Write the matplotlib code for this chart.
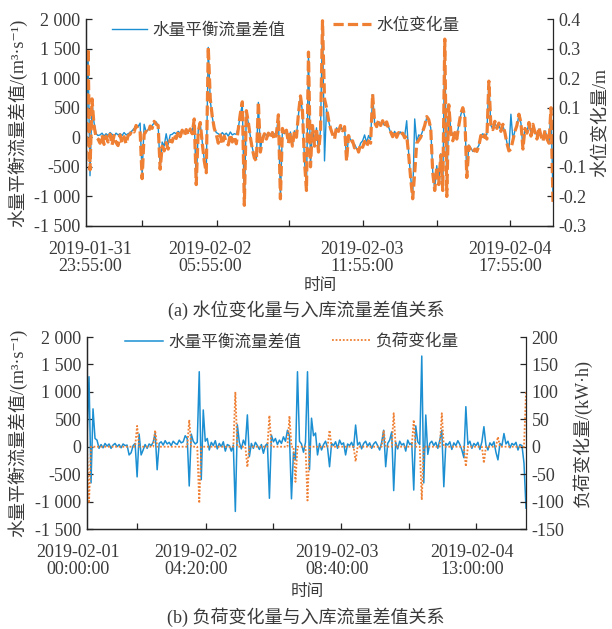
import matplotlib
matplotlib.use('Agg')
import matplotlib.pyplot as plt
import numpy as np
from matplotlib.transforms import offset_copy

# fonts: serif for numbers, CJK fallback for Chinese, DejaVu for superscript minus
plt.rcParams['font.family'] = ['Liberation Serif', 'Noto Sans CJK SC', 'DejaVu Sans']
plt.rcParams['axes.unicode_minus'] = False

# ---- (a) flow balance difference (m3/s) and water level change (mm) ----
flow_diff_a = [
    -300, 1450, -650, 600, 250, 60, 30, 40, 70, 20,
    60, 30, 80, 50, 20, 70, 40, 60, 30, 80,
    40, 60, 80, 110, 150, 160, 180, 240, -650, 220,
    90, 130, 170, 200, 240, 260, 200, -520, -80, -150,
    60, -120, 40, 50, 80, 60, 100, 70, 110, 90,
    120, 80, 130, 100, 300, -780, 120, 230, -80, -380,
    -600, 1520, 620, 340, 160, 80, 60, 30, 80, 40,
    70, 20, 90, 40, 60, 50, 160, 380, 560, -1150,
    420, 240, 20, -180, -330, -360, 590, -220, 10, 60,
    30, 80, 40, 90, 50, 70, 360, -1030, 140, 60,
    120, -80, 90, -120, 110, 30, 380, 690, 430, -380,
    -880, 1430, -480, 180, -120, 160, -230, 120, 1960, -400,
    480, 280, 140, 60, 20, 160, 100, 180, 120, 170,
    -380, 20, -40, -80, -120, -190, -210, -100, -60, 40,
    -90, 30, -40, 720, 240, 190, 260, 220, 250, 200,
    230, 170, 80, 30, 100, 20, 60, 90, 40, 20,
    280, -280, -680, -1020, 310, -80, 40, 20, 110, 190,
    330, 290, 160, -580, -880, -480, -780, -280, -880, 1650,
    -980, 540, 120, 40, 80, 30, 210, 380, 490, 340,
    -660, -130, -180, -240, -220, -190, -140, 30, 60, 20,
    50, 940, 200, 140, 240, 170, 210, 110, 190, 90,
    -90, -220, 390, -40, 110, 190, 380, 240, -190, 160,
    90, 240, 60, 190, 100, 20, 140, 60, -40, 110,
    20, -90, 480, -1000,
]

level_change_mm = [
    -80, 300, -110, 130, 40, 0, -6, -20, 8, -24,
    4, -16, 10, -26, 6, -18, -28, 8, -20, 2,
    -22, 6, 10, 24, 18, 40, 26, 20, -140, 10,
    20, 14, 38, 30, 54, 44, 40, -108, -30, -46,
    -18, -40, -10, -16, 10, -4, 18, 2, 24, 6,
    26, 8, 28, 12, 62, -160, 20, 50, -20, -80,
    -120, 306, 130, 70, 30, 10, -20, 8, -24, 4,
    -18, -26, 10, -16, 4, -22, 30, 80, 120, -230,
    90, 50, 0, -40, -70, -80, 120, -50, -10, 12,
    -6, 14, -4, 16, -8, 12, 76, -208, 30, 10,
    24, -20, 16, -30, 20, 0, 80, 140, 90, -80,
    -180, 288, -100, 40, -30, 30, -50, 20, 394, 130,
    100, 60, 30, 10, -6, 36, 20, 40, 22, 36,
    -80, 6, -16, -12, -36, -30, -50, -24, -34, -14,
    -32, -12, -20, 146, 50, 36, 58, 40, 56, 36,
    52, 30, 18, 2, 22, 0, 16, 6, 14, -2,
    6, -60, -140, -208, -120, -20, -10, 0, 20, 40,
    70, 60, 30, -120, -180, -100, -160, -60, -180, 332,
    -200, 110, 20, -12, 16, -6, 40, 80, 100, 70,
    -136, -30, -44, -52, -40, -48, -30, 6, -8, 8,
    -6, 190, 40, 26, 54, 30, 48, 20, 44, 16,
    -20, -46, -40, -10, 20, 40, 78, 50, -40, 30,
    14, 50, 4, 44, 16, -6, 34, 4, -14, 24,
    -6, -20, 100, -220,
]

# ---- (b) flow balance difference (m3/s) and load change (kW.h) ----
flow_diff_b = [
    120, 1276, -660, 690, 150, 120, -30, 40, -20, 60,
    10, 50, -30, 30, 60, 0, 40, -20, 50, 20,
    30, -150, -110, 20, 60, -550, 230, -150, -60, 40,
    -30, 50, 20, 80, 250, -420, 60, 90, 30, 110,
    50, 80, 20, 100, 60, 40, 120, 70, 90, 200,
    150, -716, 230, 100, 50, 80, 1367, -600, 670, 100,
    150, -60, 80, 20, 110, -40, 60, 0, 90, -80,
    40, 20, -80, 30, -1180, 400, 80, -40, 120, 30,
    580, -180, 60, -30, 80, 20, -50, 40, -120, 20,
    60, -940, 210, 90, 150, 40, 120, 60, 180, 100,
    300, 200, -950, -100, -240, 1367, 100, 50, -100, 80,
    1367, -420, 520, 200, 250, -150, 60, -60, 40, 100,
    -20, -365, 60, 20, 90, -30, 120, 40, 70, -150,
    50, 20, 80, -20, 395, 30, 80, -40, 60, 100,
    10, 70, -30, 50, 90, 20, -60, 80, 300, -365,
    60, 120, 270, -800, 80, -40, 100, 30, 60, -80,
    120, 40, 70, -790, 380, 90, 40, 1653, -660, 578,
    -140, 60, 100, 20, 80, -30, 120, 300, -730, 60,
    30, 90, -50, 70, 20, 110, 40, -60, -200, 730,
    40, 100, -30, 60, 20, 80, -50, 90, 365, 30,
    -60, 70, 20, 90, -100, -240, 60, 20, 240, 50,
    100, -20, 60, 30, 80, -60, 40, 20, -300, -1120,
]

load_change = [
    0, -103, 0, 0, 0, 0, 0, 0, 0, 0,
    0, 0, 0, 0, 0, 0, 0, 0, 0, 0,
    0, 0, 0, 0, 0, 38, 0, 0, 0, 0,
    0, 0, 0, 0, 30, 0, 0, 0, 0, 0,
    0, 0, 0, 0, 0, 0, 0, 0, 0, 0,
    0, 49, 0, 0, 0, 0, -103, 0, 0, 0,
    0, 0, 0, 0, 0, 0, 0, 0, 0, 0,
    0, 0, 0, 0, 100, 0, 0, 0, 0, 0,
    -37, 0, 0, 0, 0, 0, 0, 0, 0, 0,
    0, 57, 0, 0, 0, 0, 0, 0, 0, 0,
    0, 56, 0, 0, -64, 0, 0, 0, 0, 0,
    -98, 0, 0, 0, 0, 0, 0, 0, 0, 0,
    0, 30, 0, 0, 0, 0, 0, 0, 0, 0,
    0, 0, 0, 0, -27, 0, 0, 0, 0, 0,
    0, 0, 0, 0, 0, 0, 0, 0, 30, 0,
    0, 0, 0, 61, 0, 0, 0, 0, 0, 0,
    0, 0, 0, 49, 0, 0, 0, -97, 0, 0,
    0, 0, 0, 0, 0, 0, 0, 61, 0, 0,
    0, 0, 0, 0, 0, 0, 0, 0, 0, -36,
    0, 0, 0, 0, 0, 0, 0, 0, -30, 0,
    0, 0, 0, 0, 0, 18, 0, 0, 0, 0,
    0, 0, 0, 0, 0, 0, 0, 0, 0, 100,
]

dates_a = ['2019-01-31\n23:55:00', '2019-02-02\n05:55:00',
           '2019-02-03\n11:55:00', '2019-02-04\n17:55:00']
dates_b = ['2019-02-01\n00:00:00', '2019-02-02\n04:20:00',
           '2019-02-03\n08:40:00', '2019-02-04\n13:00:00']

flow_ticks = [-1500, -1000, -500, 0, 500, 1000, 1500, 2000]
flow_labels = ['-1 500', '-1 000', '-500', '0', '500', '1 000', '1 500', '2 000']
level_ticks = [-0.3, -0.2, -0.1, 0, 0.1, 0.2, 0.3, 0.4]
level_labels = ['-0.3', '-0.2', '-0.1', '0', '0.1', '0.2', '0.3', '0.4']
load_ticks = [-150, -100, -50, 0, 50, 100, 150, 200]
load_labels = ['-150', '-100', '-50', '0', '50', '100', '150', '200']

BLUE = '#1b8fd2'
ORANGE = '#ef7f32'
TXT = '#3a3a3a'
SPINE = '#262626'
FS = 13
FLOW_LABEL = '水量平衡流量差值/(m³·s⁻¹)'

W, H = 612, 629
fig = plt.figure(figsize=(W / 100, H / 100), dpi=100)


def style_axes(ax, ax2, n, tick_fracs, label_fracs, dates):
    ax.spines['top'].set_visible(False)
    ax.spines['right'].set_visible(False)
    ax2.spines['top'].set_visible(False)
    for a in (ax, ax2):
        for s in a.spines.values():
            s.set_color(SPINE)
            s.set_linewidth(0.9)
        a.tick_params(direction='in', length=4.5, width=0.9, color=SPINE,
                      labelsize=FS, labelcolor=TXT, pad=4)
    ax.set_xlim(0, n - 1)
    ax.set_xticks([f * (n - 1) for f in tick_fracs])
    ax.set_xticklabels([])
    trans = offset_copy(ax.get_xaxis_transform(), fig=fig, y=-10.5, units='points')
    for f, d in zip(label_fracs, dates):
        ax.text(f * (n - 1), 0, d, transform=trans, ha='center', va='top',
                fontsize=FS, color=TXT, linespacing=1.05, clip_on=False)
    ax.set_yticks(flow_ticks)
    ax.set_yticklabels(flow_labels)
    ax.set_ylim(-1500, 2000)


# ---------------- (a) ----------------
ax = fig.add_axes([86 / W, 1 - 226 / H, 467 / W, 207 / H])
ax2 = ax.twinx()
xa = np.arange(len(flow_diff_a))
l1, = ax.plot(xa, flow_diff_a, color=BLUE, lw=1.0)
l2, = ax2.plot(xa, np.array(level_change_mm) / 1000.0, color=ORANGE, lw=2.3,
               linestyle=(0, (3.2, 1.3)))
style_axes(ax, ax2, len(xa), [0.120, 0.2805, 0.435, 0.593, 0.752, 0.908],
           [0.009, 0.266, 0.592, 0.908], dates_a)
ax2.set_ylim(-0.3, 0.4)
ax2.set_yticks(level_ticks)
ax2.set_yticklabels(level_labels)
ax.set_ylabel(FLOW_LABEL, fontsize=FS, color=TXT)
ax.yaxis.set_label_coords((27 - 86) / 467, 0.5)
ax2.set_ylabel('水位变化量/m', fontsize=FS, color=TXT)
ax2.yaxis.set_label_coords((593 - 86) / 467, 0.5)
fig.text(320 / W, 1 - 286 / H, '时间', ha='center', va='center', fontsize=12, color=TXT)
fig.text(0.5, 1 - 310 / H, '(a) 水位变化量与入库流量差值关系', ha='center', va='center',
         fontsize=13, color=TXT)
ax.legend([l1], ['水量平衡流量差值'], loc='center left', bbox_to_anchor=(112 / W, 1 - 31 / H),
          bbox_transform=fig.transFigure, frameon=False, borderpad=0, borderaxespad=0,
          handlelength=2.1, handletextpad=0.3, fontsize=12, labelcolor=TXT)
ax2.legend([l2], ['水位变化量'], loc='center left', bbox_to_anchor=(333 / W, 1 - 26 / H),
           bbox_transform=fig.transFigure, frameon=False, borderpad=0, borderaxespad=0,
           handlelength=2.3, handletextpad=0.3, fontsize=12, labelcolor=TXT)

# ---------------- (b) ----------------
bx = fig.add_axes([87 / W, 1 - 529 / H, 439 / W, 192 / H])
bx2 = bx.twinx()
xb = np.arange(len(flow_diff_b))
m1, = bx.plot(xb, flow_diff_b, color=BLUE, lw=1.1)
m2, = bx2.plot(xb, load_change, color=ORANGE, lw=1.3, linestyle=(0, (1, 1.0)))
style_axes(bx, bx2, len(xb), [0.114, 0.271, 0.424, 0.579, 0.733, 0.886],
           [-0.0194, 0.248, 0.5695, 0.878], dates_b)
bx2.set_ylim(-150, 200)
bx2.set_yticks(load_ticks)
bx2.set_yticklabels(load_labels)
bx.set_ylabel(FLOW_LABEL, fontsize=FS, color=TXT)
bx.yaxis.set_label_coords((27 - 87) / 439, 0.5)
bx2.set_ylabel('负荷变化量/(kW·h)', fontsize=FS, color=TXT)
bx2.yaxis.set_label_coords((572 - 87) / 439, 0.5)
fig.text(307 / W, 1 - 592 / H, '时间', ha='center', va='center', fontsize=12, color=TXT)
fig.text(0.5, 1 - 617 / H, '(b) 负荷变化量与入库流量差值关系', ha='center', va='center',
         fontsize=13, color=TXT)
bx.legend([m1], ['水量平衡流量差值'], loc='center left', bbox_to_anchor=(125 / W, 1 - 343 / H),
          bbox_transform=fig.transFigure, frameon=False, borderpad=0, borderaxespad=0,
          handlelength=2.3, handletextpad=0.3, fontsize=12, labelcolor=TXT)
bx2.legend([m2], ['负荷变化量'], loc='center left', bbox_to_anchor=(332 / W, 1 - 342 / H),
           bbox_transform=fig.transFigure, frameon=False, borderpad=0, borderaxespad=0,
           handlelength=2.3, handletextpad=0.3, fontsize=12, labelcolor=TXT)

fig.savefig('out.png', dpi=100)
